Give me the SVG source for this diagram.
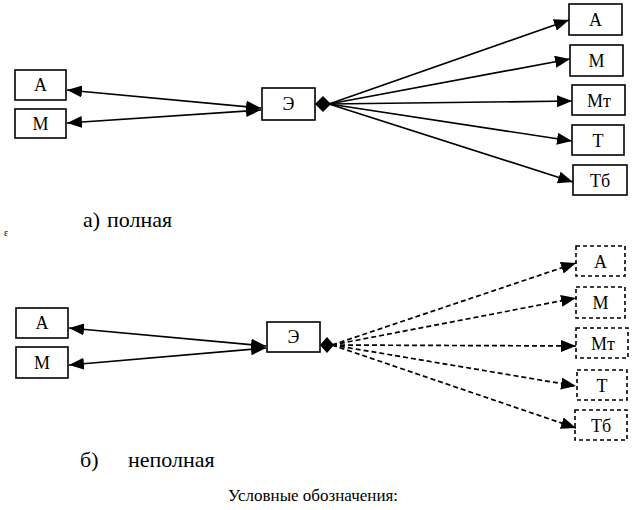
<svg xmlns="http://www.w3.org/2000/svg" width="636" height="510" viewBox="0 0 636 510">
<defs>
<style>
.box{fill:#fff;stroke:#000;stroke-width:1.6}
.dbox{fill:#fff;stroke:#000;stroke-width:1.6;stroke-dasharray:4 3}
.ln{stroke:#000;stroke-width:1.7;fill:none}
.dl{stroke:#000;stroke-width:1.7;fill:none;stroke-dasharray:5 3}
</style>
<marker id="ah" markerUnits="userSpaceOnUse" markerWidth="18" markerHeight="14" refX="15" refY="6" orient="auto-start-reverse">
<path d="M0,0 L15,6 L0,12 z" fill="#000"/>
</marker>
</defs>
<rect width="636" height="510" fill="#fff"/>

<g font-family="Liberation Serif, Times New Roman, serif" font-size="18" text-anchor="middle" fill="#000">
<!-- top section nodes -->
<g id="a-left-A"><rect class="box" x="15" y="70" width="51" height="30"/><text x="40.5" y="91">А</text></g>
<g id="a-left-M"><rect class="box" x="15" y="109" width="51" height="29"/><text x="40.5" y="130">М</text></g>
<g id="a-E"><rect class="box" x="262" y="88" width="53" height="32"/><text x="288.5" y="110">Э</text></g>
<g id="a-r-A"><rect class="box" x="569" y="4" width="53" height="31"/><text x="595.5" y="26">А</text></g>
<g id="a-r-M"><rect class="box" x="570" y="45" width="53" height="31"/><text x="596.5" y="67">М</text></g>
<g id="a-r-Mt"><rect class="box" x="572" y="85" width="53" height="30"/><text x="599" y="107">Мт</text></g>
<g id="a-r-T"><rect class="box" x="572" y="125" width="52" height="30"/><text x="598" y="147">Т</text></g>
<g id="a-r-Tb"><rect class="box" x="573" y="165" width="54" height="30"/><text x="600" y="187">Тб</text></g>

<!-- bottom section nodes -->
<g id="b-left-A"><rect class="box" x="16" y="308" width="52" height="30"/><text x="42" y="329">А</text></g>
<g id="b-left-M"><rect class="box" x="16" y="347" width="52" height="31"/><text x="42" y="369">М</text></g>
<g id="b-E"><rect class="box" x="267" y="322" width="53" height="30"/><text x="293.5" y="343">Э</text></g>
<g id="b-r-A"><rect class="dbox" x="576" y="246" width="49" height="30"/><text x="600.5" y="268">А</text></g>
<g id="b-r-M"><rect class="dbox" x="576" y="287" width="49" height="31"/><text x="600.5" y="309">М</text></g>
<g id="b-r-Mt"><rect class="dbox" x="576" y="328" width="52" height="30"/><text x="603" y="350">Мт</text></g>
<g id="b-r-T"><rect class="dbox" x="577" y="370" width="50" height="30"/><text x="602" y="392">Т</text></g>
<g id="b-r-Tb"><rect class="dbox" x="575" y="410" width="52" height="30"/><text x="601" y="432">Тб</text></g>
</g>

<!-- connectors -->
<g id="connectors">
<line class="ln" x1="261" y1="108" x2="67" y2="90" marker-start="url(#ah)" marker-end="url(#ah)"/>
<line class="ln" x1="261" y1="110" x2="67" y2="123" marker-start="url(#ah)" marker-end="url(#ah)"/>
<polygon points="315,104 323,96 331,104 323,112" fill="#000"/>
<line class="ln" x1="329" y1="104" x2="569" y2="20" marker-end="url(#ah)"/>
<line class="ln" x1="329" y1="104" x2="570" y2="59" marker-end="url(#ah)"/>
<line class="ln" x1="329" y1="104" x2="572" y2="101" marker-end="url(#ah)"/>
<line class="ln" x1="329" y1="104" x2="572" y2="141" marker-end="url(#ah)"/>
<line class="ln" x1="329" y1="104" x2="573" y2="182" marker-end="url(#ah)"/>

<line class="ln" x1="266" y1="346" x2="69" y2="328" marker-start="url(#ah)" marker-end="url(#ah)"/>
<line class="ln" x1="266" y1="348" x2="69" y2="365" marker-start="url(#ah)" marker-end="url(#ah)"/>
<polygon points="320,345 327,337 334,345 327,353" fill="#000"/>
<line class="dl" x1="332" y1="345" x2="576" y2="263" marker-end="url(#ah)"/>
<line class="dl" x1="332" y1="345" x2="576" y2="298" marker-end="url(#ah)"/>
<line class="dl" x1="332" y1="345" x2="576" y2="346" marker-end="url(#ah)"/>
<line class="dl" x1="332" y1="345" x2="576" y2="386" marker-end="url(#ah)"/>
<line class="dl" x1="332" y1="345" x2="576" y2="428" marker-end="url(#ah)"/>
</g>

<!-- captions -->
<g font-family="Liberation Serif, Times New Roman, serif" fill="#000">
<text font-size="22" x="83" y="227">а)</text>
<text font-size="22" x="107" y="227">полная</text>
<text font-size="10" x="4" y="236">ε</text>
<text font-size="22" x="80" y="467">б)</text>
<text font-size="22" x="128" y="467">неполная</text>
<text font-size="17" x="228" y="501">Условные обозначения:</text>
</g>
</svg>
